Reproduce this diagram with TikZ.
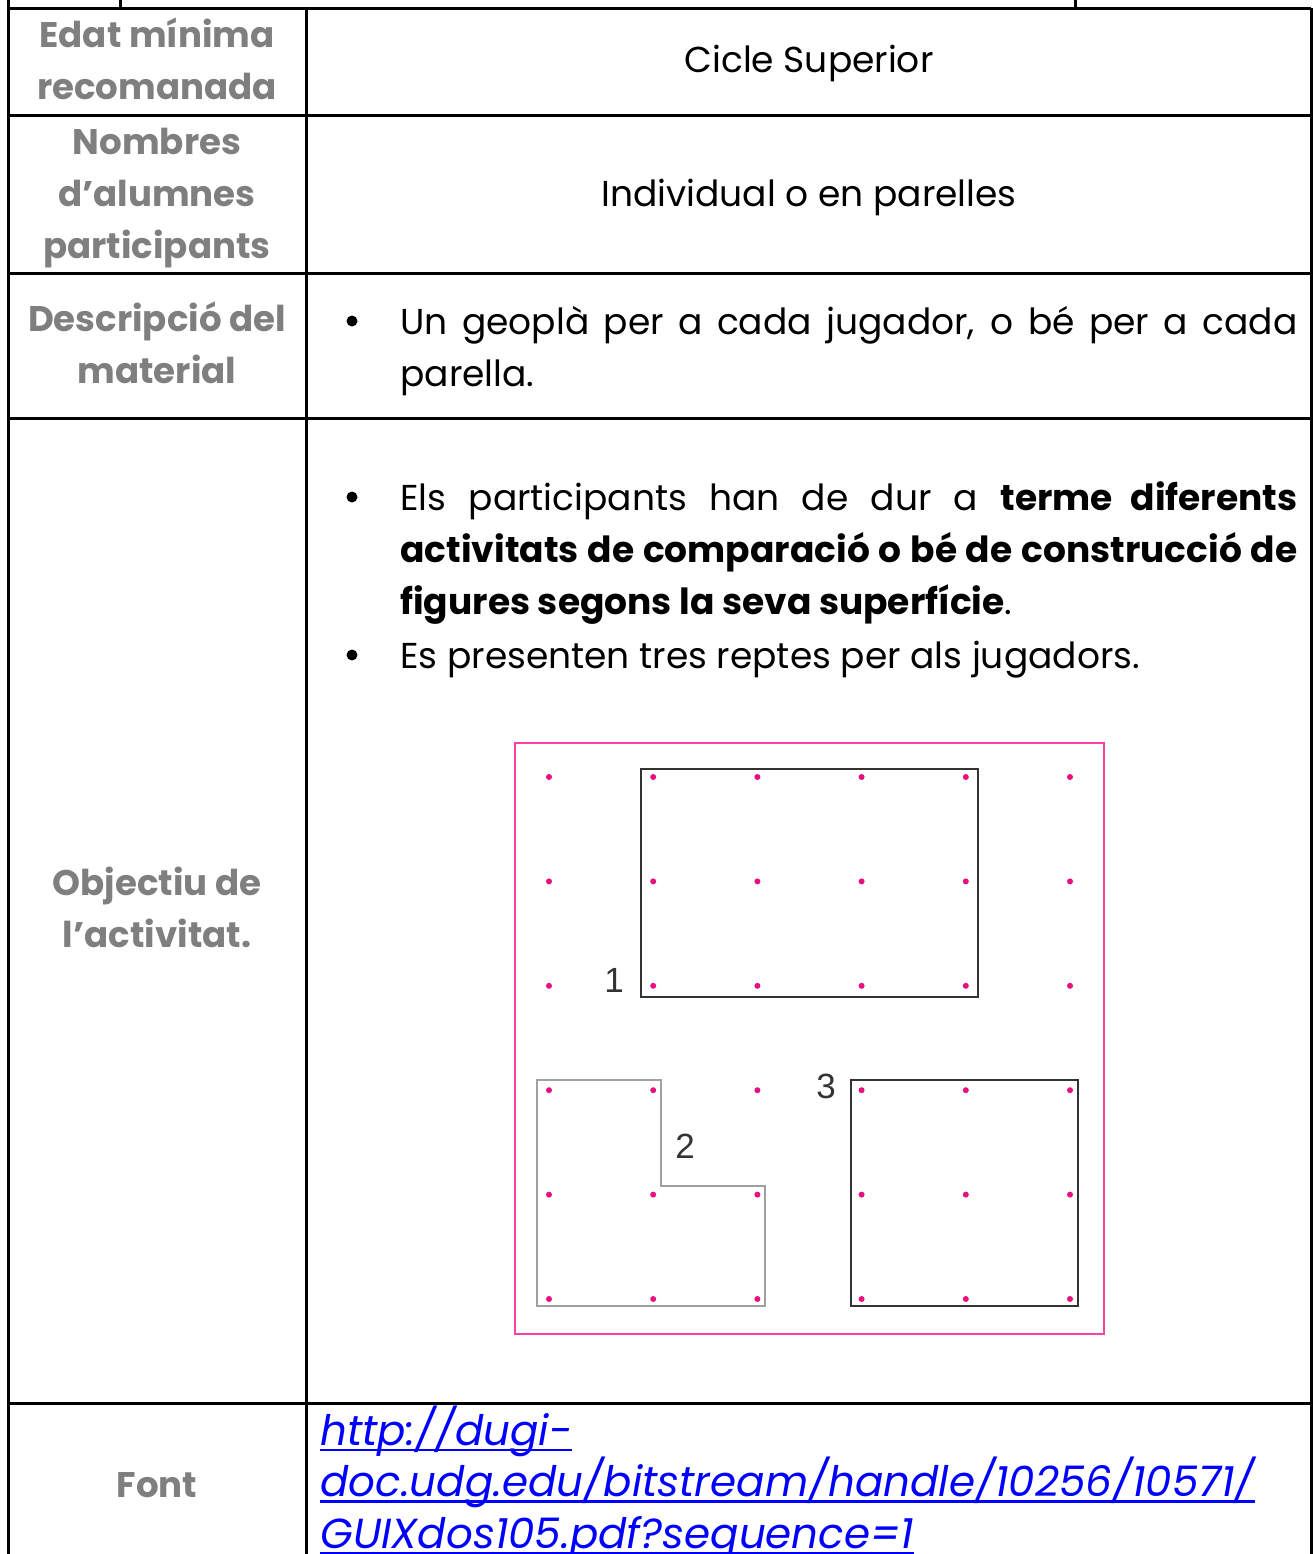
\documentclass[tikz,border=0pt]{standalone}
\usepackage{fontspec}
\setmainfont{Poppins}
\newfontfamily\numfont{Liberation Sans}
\usetikzlibrary{positioning}

\definecolor{headgray}{HTML}{7F7F7F}
\definecolor{framepink}{HTML}{FF3FA6}
\definecolor{pegpink}{HTML}{E8107F}
\definecolor{linkblue}{HTML}{0000FF}
\definecolor{bandgray}{HTML}{333333}
\definecolor{lightband}{HTML}{A0A0A0}

% thick underline for the link lines
\newcommand{\linkline}[1]{\setbox0\hbox{#1}\rlap{\rule[-3.2pt]{\wd0}{1.3pt}}\box0}

\tikzset{
  head/.style={font=\bfseries\fontsize{17.8}{26}\selectfont, text=headgray, align=center, anchor=base, inner sep=0pt},
  body/.style={font=\fontsize{18}{26}\selectfont, anchor=base, inner sep=0pt},
  item/.style={body, anchor=base west, text width=448.5pt, align=justify},
  dot/.style={circle, fill=black, inner sep=0pt, minimum size=5.5pt},
  rule/.style={line width=1.5pt},
  peg/.style={circle, fill=pegpink, inner sep=0pt, minimum size=3pt},
  figlabel/.style={font=\numfont\fontsize{17.5}{20}\selectfont, text=bandgray, anchor=base, inner sep=0pt}
}

\begin{document}
\begin{tikzpicture}[x=0.5pt, y=-0.5pt]
    \useasboundingbox (0,0) rectangle (1313,1554);

    % Table rules
    \draw[rule] (120,0) -- (120,8);
    \draw[rule] (1075,0) -- (1075,8);
    \draw[rule] (8,0) -- (8,1554);
    \draw[rule] (306,8) -- (306,1554);
    \draw[rule] (1311,8) -- (1311,1554);
    \foreach \y in {8,115,273,418,1403}
        \draw[rule] (8,\y) -- (1311,\y);

    % Left column
    \node[head] (edat) at (157,99) {Edat mínima\\recomanada};
    \node[head] (nombres) at (157,258) {Nombres\\d’alumnes\\participants};
    \node[head] (descr) at (157,383) {Descripció del\\material};
    \node[head] (objectiu) at (157,947) {Objectiu de\\l’activitat.};
    \node[head] (font) at (157,1497) {Font};

    % Right column
    \node[body] (cicle) at (809,72) {Cicle Superior};
    \node[body] (individual) at (809,206) {Individual o en parelles};

    \node[dot] (b1) at (352,321) {};
    \node[item] (geopla) at (400,334) {Un geoplà per a cada jugador, o bé per a cada\linebreak parella.};

    \node[dot] (b2) at (352,497) {};
    \node[item] (reptes) at (400,510) {Els participants han de dur a \textbf{terme diferents}\linebreak
        \textbf{activitats de comparació o bé de construcció de}\linebreak
        \textbf{figures segons la seva superfície}.};
    \node[dot] (b3) at (352,655) {};
    \node[item] (tres) at (400,668) {Es presenten tres reptes per als jugadors.};

    % Geoboard
    \draw[framepink, line width=1.2pt] (515,743) rectangle (1104,1334);
    \foreach \i in {0,...,5}
        \foreach \j in {0,...,5}
            \node[peg] (peg-\i-\j) at (549+104.2*\i, 777+104.4*\j) {};

    \draw[bandgray, line width=1pt] (641,769) rectangle (978,997);
    \draw[lightband, line width=1pt] (537,1080) -- (661,1080) -- (661,1186) -- (765,1186)
        -- (765,1306) -- (537,1306) -- cycle;
    \draw[bandgray, line width=1pt] (851,1080) rectangle (1078,1306);

    \node[figlabel] (one) at (614,992) {1};
    \node[figlabel] (two) at (685,1158) {2};
    \node[figlabel] (three) at (826,1098) {3};

    % Source
    \node[body, anchor=base west, align=left, text=linkblue, font=\itshape\fontsize{21}{25.75}\selectfont] (link) at (320,1548)
        {\linkline{http://dugi-}\\\linkline{doc.udg.edu/bitstream/handle/10256/10571/}\\\linkline{GUIXdos105.pdf?sequence=1}};

\end{tikzpicture}
\end{document}
